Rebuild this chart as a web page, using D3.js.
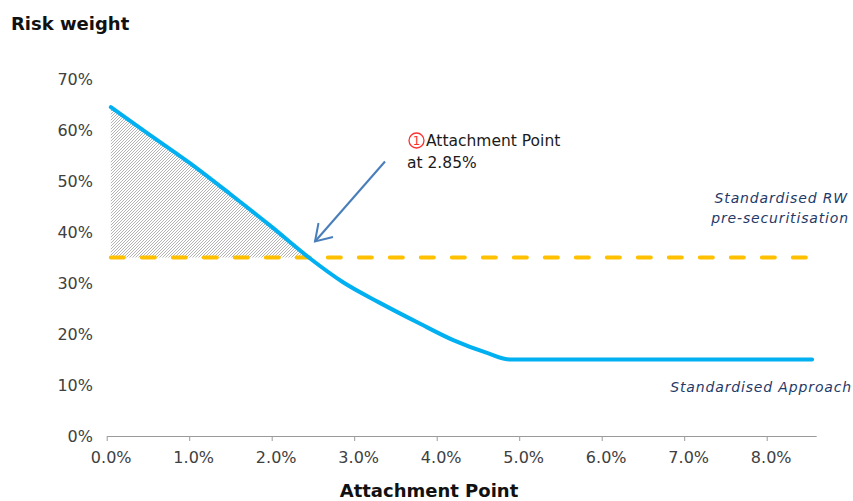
<!DOCTYPE html>
<html>
<head>
<meta charset="utf-8">
<script src="https://cdn.jsdelivr.net/npm/d3@7"></script>
<style>
  html, body { margin: 0; padding: 0; background: #fff; }
  svg { display: block; font-family: "DejaVu Sans", Verdana, sans-serif; }
</style>
</head>
<body>
<svg id="chart" width="853" height="501"></svg>
<script>
// Attachment point (%) and the resulting Standardised Approach risk weight (%)
const attachmentPoints = [0.05, 0.5, 1.0, 1.5, 2.0, 2.45, 2.86, 3.3, 3.8, 4.2, 4.61, 4.89, 8.55];
const standardisedRW   = [64.5, 59.3, 53.6, 47.4, 41.0, 35.0, 30.2, 26.2, 22.0, 18.8, 16.3, 15.0, 15.0];

// Flat risk weight of the pool before securitisation (%)
const preSecuritisationRW = 35;

// Axis ticks
const xTicks = [0, 1, 2, 3, 4, 5, 6, 7, 8];
const yTicks = [0, 10, 20, 30, 40, 50, 60, 70];

// Annotated attachment point
const annotationLabel = ["Attachment Point", "at 2.85%"];

const svg = d3.select("#chart");

const x = d3.scaleLinear().domain([0, 8.6]).range([106.7, 816.2]);
const y = d3.scaleLinear().domain([0, 70]).range([436, 79]);

const series = attachmentPoints.map((a, i) => ({ a, rw: standardisedRW[i] }));

// Hatch pattern for the area above the pre-securitisation RW
const defs = svg.append("defs");
const pat = defs.append("pattern")
  .attr("id", "hatch")
  .attr("patternUnits", "userSpaceOnUse")
  .attr("width", 3).attr("height", 3);
pat.append("path")
  .attr("d", "M-1,1 L1,-1 M0,3 L3,0 M2,4 L4,2")
  .attr("stroke", "#999999")
  .attr("stroke-width", 0.75);

// Shaded region between the curve and the flat line
const hatchData = series.filter(d => d.rw >= preSecuritisationRW);
svg.append("path")
  .datum(hatchData)
  .attr("fill", "url(#hatch)")
  .attr("d", d3.area()
    .x(d => x(d.a))
    .y0(y(preSecuritisationRW))
    .y1(d => y(d.rw)));

// Pre-securitisation RW (dashed)
const xMin = d3.min(attachmentPoints), xMax = d3.max(attachmentPoints);
svg.append("path")
  .datum([{ a: xMin, rw: preSecuritisationRW }, { a: xMax, rw: preSecuritisationRW }])
  .attr("fill", "none")
  .attr("stroke", "#FFC000")
  .attr("stroke-width", 4)
  .attr("stroke-linecap", "round")
  .attr("stroke-dasharray", "13,18")
  .attr("d", d3.line().x(d => x(d.a)).y(d => y(d.rw)));

// Standardised Approach curve
svg.append("path")
  .datum(series)
  .attr("fill", "none")
  .attr("stroke", "#00B0F0")
  .attr("stroke-width", 4)
  .attr("stroke-linecap", "round")
  .attr("stroke-linejoin", "round")
  .attr("d", d3.line().curve(d3.curveMonotoneX).x(d => x(d.a)).y(d => y(d.rw)));

// X axis
const xAxis = svg.append("g")
  .attr("transform", `translate(0,${y(0)})`)
  .call(d3.axisBottom(x)
    .tickValues(xTicks)
    .tickSize(5)
    .tickSizeOuter(0)
    .tickFormat(d => d.toFixed(1) + "%"));
xAxis.select(".domain").attr("stroke", "#9a9a9a");
xAxis.selectAll(".tick line").attr("stroke", "#9a9a9a");
xAxis.selectAll(".tick text")
  .attr("y", 16)
  .attr("x", 4)
  .attr("fill", "#404040")
  .style("font-size", "16px")
  .style("font-family", "DejaVu Sans, Verdana, sans-serif");

// Y axis (labels only)
const yAxis = svg.append("g")
  .attr("transform", "translate(93,0)")
  .call(d3.axisLeft(y)
    .tickValues(yTicks)
    .tickSize(0)
    .tickPadding(0)
    .tickFormat(d => d + "%"));
yAxis.select(".domain").remove();
yAxis.selectAll(".tick text")
  .attr("fill", "#404040")
  .style("font-size", "16px")
  .style("font-family", "DejaVu Sans, Verdana, sans-serif");

// Titles
svg.append("text")
  .attr("x", 11).attr("y", 30)
  .attr("font-size", 18).attr("font-weight", "bold").attr("fill", "#111")
  .text("Risk weight");
svg.append("text")
  .attr("x", 429).attr("y", 497)
  .attr("text-anchor", "middle")
  .attr("font-size", 18).attr("font-weight", "bold").attr("fill", "#111")
  .text("Attachment Point");

// Annotation: circled marker, text and arrow
const ann = svg.append("g");
ann.append("circle")
  .attr("cx", 416.5).attr("cy", 140.5).attr("r", 7.5)
  .attr("fill", "none").attr("stroke", "#ff3030").attr("stroke-width", 1.3);
ann.append("text")
  .attr("x", 416.5).attr("y", 145)
  .attr("text-anchor", "middle")
  .attr("font-size", 12).attr("fill", "#ff3030")
  .text("1");
ann.append("text")
  .attr("x", 426).attr("y", 146)
  .attr("font-size", 15.5).attr("fill", "#1a1a1a")
  .text(annotationLabel[0]);
ann.append("text")
  .attr("x", 407).attr("y", 168)
  .attr("font-size", 15.5).attr("fill", "#1a1a1a")
  .text(annotationLabel[1]);

const arrowColor = "#4a7ebb";
ann.append("line")
  .attr("x1", 385).attr("y1", 161.5)
  .attr("x2", 315).attr("y2", 241.5)
  .attr("stroke", arrowColor).attr("stroke-width", 2);
ann.append("path")
  .attr("d", "M318.5,223 L315,241.5 L333,237")
  .attr("fill", "none").attr("stroke", arrowColor)
  .attr("stroke-width", 2).attr("stroke-linejoin", "miter");

// Series labels
const labelColor = "#1F3A68";
const seriesLabel = (xPos, yPos, txt) => svg.append("text")
  .attr("x", xPos).attr("y", yPos)
  .attr("text-anchor", "end")
  .attr("font-size", 14).attr("font-style", "italic")
  .attr("letter-spacing", "0.85px")
  .attr("fill", labelColor)
  .text(txt);
seriesLabel(848, 203, "Standardised RW");
seriesLabel(849, 223, "pre-securitisation");
seriesLabel(852, 392, "Standardised Approach");
</script>
</body>
</html>
